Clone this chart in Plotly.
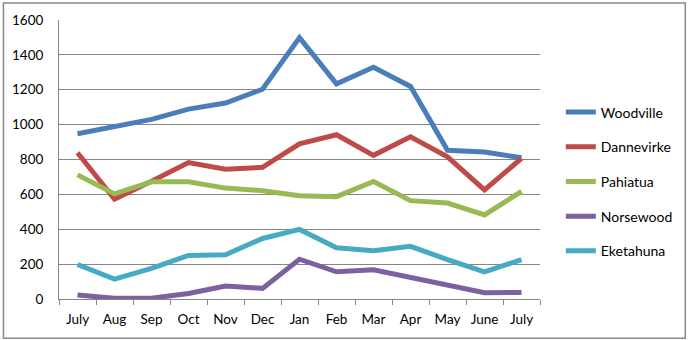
import plotly.graph_objects as go

months = ["July", "Aug", "Sep", "Oct", "Nov", "Dec", "Jan", "Feb", "Mar", "Apr", "May", "June", "July"]
woodville = [948, 992, 1030, 1089, 1124, 1203, 1499, 1234, 1329, 1219, 853, 843, 810]
dannevirke = [839, 573, 675, 782, 744, 755, 890, 942, 824, 930, 815, 626, 806]
pahiatua = [712, 603, 672, 672, 636, 621, 592, 587, 674, 564, 550, 482, 617]
norsewood = [23, 4, 4, 32, 74, 61, 228, 156, 168, 123, 74, 36, 37]
eketahuna = [198, 114, 175, 250, 254, 347, 399, 294, 277, 302, 226, 156, 226]
y_ticks = [0, 200, 400, 600, 800, 1000, 1200, 1400, 1600]

series = [
    ("Woodville", woodville, "#4A7EBB"),
    ("Dannevirke", dannevirke, "#BE4B48"),
    ("Pahiatua", pahiatua, "#98B954"),
    ("Norsewood", norsewood, "#7D60A0"),
    ("Eketahuna", eketahuna, "#46AAC5"),
]

idx = list(range(len(months)))
fig = go.Figure()
for name, vals, col in series:
    fig.add_trace(go.Scatter(x=idx, y=vals, name=name, mode="lines",
                             line=dict(color=col, width=5), legendgroup=name))

font = dict(family="Lato, Carlito, Calibri, sans-serif", size=13.5, color="#000000")
L, R, T, B = 57, 148, 18, 41
W, H = 690, 340
pw, ph = W - L - R, H - T - B

fig.update_layout(
    width=W, height=H,
    margin=dict(l=L, r=R, t=T, b=B),
    paper_bgcolor="white", plot_bgcolor="white",
    font=font,
    showlegend=True,
    legend=dict(x=(563 - L) / pw, y=(299 - 95) / ph, xanchor="left", yanchor="top",
                font=dict(family=font["family"], size=14, color="#000"),
                tracegroupgap=13.5, bgcolor="rgba(0,0,0,0)"),
    xaxis=dict(range=[-0.5, len(months) - 0.5], tickmode="array", tickvals=idx,
               ticktext=months, ticks="", showgrid=False, zeroline=False,
               showline=True, linecolor="#868686", linewidth=1,
               ticklabelstandoff=8, tickfont=font,
               minor=dict(tickmode="array", tickvals=[i - 0.5 for i in range(len(months) + 1)],
                          ticks="outside", ticklen=5, tickcolor="#868686", tickwidth=1,
                          showgrid=False)),
    yaxis=dict(range=[0, 1600], tickmode="array", tickvals=y_ticks, ticks="",
               showgrid=True, gridcolor="#868686", gridwidth=1, zeroline=False,
               showline=True, linecolor="#868686", linewidth=1,
               ticklabelstandoff=12, tickfont=font),
    shapes=[dict(type="rect", xref="paper", yref="paper",
                 x0=(1 - L) / pw, x1=(688.5 - L) / pw,
                 y0=(299 - 338.5) / ph, y1=(299 - 1) / ph,
                 line=dict(color="#898989", width=1.5), layer="below")],
)

fig.write_html("out.html")
